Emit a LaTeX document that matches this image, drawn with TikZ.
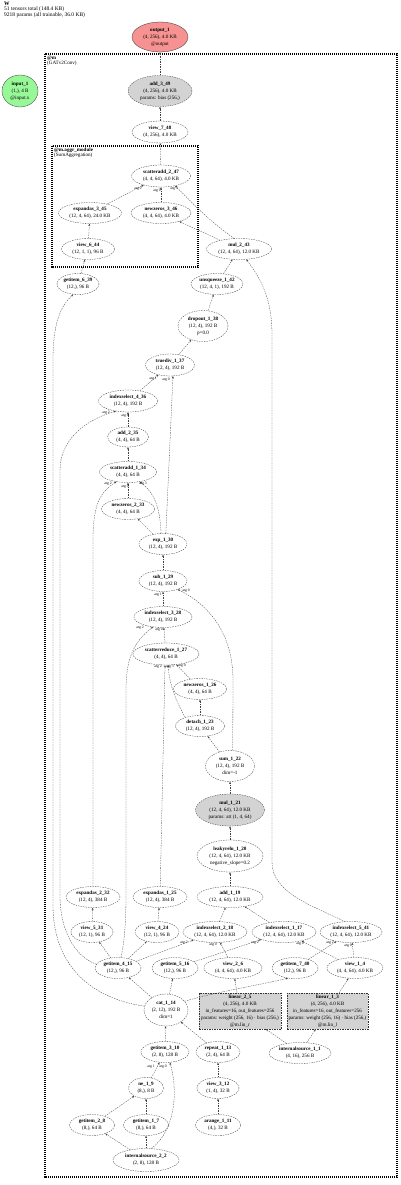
\documentclass[tikz,border=0pt]{standalone}
\usepackage{fontspec}
\setmainfont{Liberation Serif}
\usetikzlibrary{shapes.geometric,arrows.meta}
\definecolor{outred}{RGB}{246,146,146}
\definecolor{ingreen}{RGB}{152,248,152}
\definecolor{pgray}{RGB}{211,211,211}
\newcommand\nfont{\fontsize{5.1}{6.9}\selectfont}
\newcommand\lfont{\fontsize{3.7}{4}\selectfont}
\begin{document}
\begin{tikzpicture}[x=1pt,y=-1pt,
 tn/.style={ellipse, draw=black!80, line width=0.3pt, dash pattern=on 1.5pt off 1pt, inner sep=0pt, align=center, font=\nfont},
 tr/.style={rectangle, draw=black!80, line width=0.3pt, dash pattern=on 1.5pt off 1pt, inner sep=0pt, align=center, font=\nfont, fill=pgray},
 sz/.style 2 args={minimum width=#1pt, minimum height=#2pt},
 ed/.style={draw=black!75, line width=0.3pt, dash pattern=on 1.5pt off 1pt, -{Stealth[length=2.4pt,width=1.8pt]}},
 clu/.style={draw=black, line width=1.2pt, dash pattern=on 1.2pt off 0.8pt},
 al/.style={font=\lfont, inner sep=0pt},
 lab/.style={anchor=north west, inner sep=0pt, align=left}
]
\useasboundingbox (0,0) rectangle (400,1185);
% header
\node[lab, font=\fontsize{5.5}{5.5}\selectfont] (hdr) at (4,1.5) {\textbf{W}\\51 tensors total (148.4 KB)\\9218 params (all trainable, 36.0 KB)};
% clusters
\draw[clu] (45,54) rectangle (397,1177);
\draw[clu] (52,146) rectangle (198,267);
\node[lab, font=\fontsize{5.1}{5.6}\selectfont] (clm) at (47,55.5) {\textbf{@m}\\(GATv2Conv)};
\node[lab, font=\fontsize{5.1}{5.6}\selectfont] (clagg) at (54,147.5) {\textbf{@m.aggr\_module}\\(SumAggregation)};
% nodes
\node[tn, sz={56}{30}, fill=outred, solid] (out1) at (160,37) {\textbf{output\_1}\\(4, 256), 4.0 KB\\@output};
\node[tn, sz={36}{32}, fill=ingreen, solid] (inp1) at (20,91) {\textbf{input\_1}\\(1,), 4 B\\@input.x};
\node[tn, sz={64}{31}, fill=pgray] (add349) at (160,91) {\textbf{add\_3\_49}\\(4, 256), 4.0 KB\\params: bias (256,)};
\node[tn, sz={56}{22}] (view748) at (160,132) {\textbf{view\_7\_48}\\(4, 256), 4.0 KB};
\node[tn, sz={59}{22}] (sca247) at (161,176) {\textbf{scatteradd\_2\_47}\\(4, 4, 64), 4.0 KB};
\node[tn, sz={63}{21}] (exa345) at (90,213) {\textbf{expandas\_3\_45}\\(12, 4, 64), 24.0 KB};
\node[tn, sz={60}{21}] (nz346) at (161,213) {\textbf{newzeros\_3\_46}\\(4, 4, 64), 4.0 KB};
\node[tn, sz={53}{21}] (view644) at (88,249) {\textbf{view\_6\_44}\\(12, 1, 1), 96 B};
\node[tn, sz={65}{21}] (mul243) at (239,249) {\textbf{mul\_2\_43}\\(12, 4, 64), 12.0 KB};
\node[tn, sz={42}{21}] (gi639) at (78,284) {\textbf{getitem\_6\_39}\\(12,), 96 B};
\node[tn, sz={52}{21}] (unsq142) at (217,284) {\textbf{unsqueeze\_1\_42}\\(12, 4, 1), 192 B};
\node[tn, sz={50}{31}] (drop138) at (203,326) {\textbf{dropout\_1\_38}\\(12, 4), 192 B\\p=0.0};
\node[tn, sz={49}{22}] (tdiv137) at (170,365) {\textbf{truediv\_1\_37}\\(12, 4), 192 B};
\node[tn, sz={59}{22}] (isel436) at (128,401) {\textbf{indexselect\_4\_36}\\(12, 4), 192 B};
\node[tn, sz={41}{20}] (add235) at (128,437) {\textbf{add\_2\_35}\\(4, 4), 64 B};
\node[tn, sz={57}{21}] (sca134) at (128,472) {\textbf{scatteradd\_1\_34}\\(4, 4), 64 B};
\node[tn, sz={53}{21}] (nz233) at (128,509) {\textbf{newzeros\_2\_33}\\(4, 4), 64 B};
\node[tn, sz={48}{21}] (exp130) at (163,544) {\textbf{exp\_1\_30}\\(12, 4), 192 B};
\node[tn, sz={48}{21}] (sub129) at (163,581) {\textbf{sub\_1\_29}\\(12, 4), 192 B};
\node[tn, sz={58}{21}] (isel328) at (163,617) {\textbf{indexselect\_3\_28}\\(12, 4), 192 B};
\node[tn, sz={66}{22}] (scr127) at (166,654) {\textbf{scatterreduce\_1\_27}\\(4, 4), 64 B};
\node[tn, sz={53}{21}] (nz126) at (200,689) {\textbf{newzeros\_1\_26}\\(4, 4), 64 B};
\node[tn, sz={49}{21}] (det123) at (200,726) {\textbf{detach\_1\_23}\\(12, 4), 192 B};
\node[tn, sz={49}{31}] (sum122) at (230,766) {\textbf{sum\_1\_22}\\(12, 4), 192 B\\dim=-1};
\node[tn, sz={69}{32}, fill=pgray] (mul121) at (230,810) {\textbf{mul\_1\_21}\\(12, 4, 64), 12.0 KB\\params: att (1, 4, 64)};
\node[tn, sz={66}{32}] (lrelu120) at (230,856) {\textbf{leakyrelu\_1\_20}\\(12, 4, 64), 12.0 KB\\negative\_slope=0.2};
\node[tn, sz={66}{21}] (add119) at (230,897) {\textbf{add\_1\_19}\\(12, 4, 64), 12.0 KB};
\node[tn, sz={54}{21}] (exa232) at (93,897) {\textbf{expandas\_2\_32}\\(12, 4), 384 B};
\node[tn, sz={54}{21}] (exa125) at (160,897) {\textbf{expandas\_1\_25}\\(12, 4), 384 B};
\node[tn, sz={42}{21}] (view531) at (92,932) {\textbf{view\_5\_31}\\(12, 1), 96 B};
\node[tn, sz={44}{21}] (view424) at (157,932) {\textbf{view\_4\_24}\\(12, 1), 96 B};
\node[tn, sz={64}{21}] (isel218) at (215,932) {\textbf{indexselect\_2\_18}\\(12, 4, 64), 12.0 KB};
\node[tn, sz={64}{21}] (isel117) at (284,932) {\textbf{indexselect\_1\_17}\\(12, 4, 64), 12.0 KB};
\node[tn, sz={62}{21}] (isel541) at (351,932) {\textbf{indexselect\_5\_41}\\(12, 4, 64), 12.0 KB};
\node[tn, sz={46}{21}] (gi415) at (118,968) {\textbf{getitem\_4\_15}\\(12,), 96 B};
\node[tn, sz={46}{21}] (gi516) at (175,968) {\textbf{getitem\_5\_16}\\(12,), 96 B};
\node[tn, sz={58}{21}] (view26) at (233,968) {\textbf{view\_2\_6}\\(4, 4, 64), 4.0 KB};
\node[tn, sz={46}{21}] (gi740) at (295,968) {\textbf{getitem\_7\_40}\\(12,), 96 B};
\node[tn, sz={56}{21}] (view14) at (355,968) {\textbf{view\_1\_4}\\(4, 4, 64), 4.0 KB};
\node[tn, sz={44}{32}] (cat114) at (166,1010) {\textbf{cat\_1\_14}\\(2, 12), 192 B\\dim=1};
\node[tr, sz={82}{36}] (lin25) at (240,1011) {\textbf{linear\_2\_5}\\(4, 256), 4.0 KB\\in\_features=16, out\_features=256\\\makebox[0pt]{params: weight (256, 16) · bias (256,)}\\@m.lin\_r};
\node[tr, sz={81}{36}] (lin13) at (327.5,1011) {\textbf{linear\_1\_3}\\(4, 256), 4.0 KB\\in\_features=16, out\_features=256\\\makebox[0pt]{params: weight (256, 16) · bias (256,)}\\@m.lin\_l};
\node[tn, sz={48}{21}] (gi310) at (165,1052) {\textbf{getitem\_3\_10}\\(2, 8), 128 B};
\node[tn, sz={44}{21}] (rep113) at (218,1052) {\textbf{repeat\_1\_13}\\(2, 4), 64 B};
\node[tn, sz={62}{21}] (isrc11) at (300,1053) {\textbf{internalsource\_1\_1}\\(4, 16), 256 B};
\node[tn, sz={35}{21}] (ne19) at (146,1088) {\textbf{ne\_1\_9}\\(8,), 8 B};
\node[tn, sz={42}{21}] (view312) at (218,1088) {\textbf{view\_3\_12}\\(1, 4), 32 B};
\node[tn, sz={45}{21}] (gi28) at (92,1125) {\textbf{getitem\_2\_8}\\(8,), 64 B};
\node[tn, sz={45}{21}] (gi17) at (146,1125) {\textbf{getitem\_1\_7}\\(8,), 64 B};
\node[tn, sz={45}{21}] (ar111) at (218,1125) {\textbf{arange\_1\_11}\\(4,), 32 B};
\node[tn, sz={66}{23}] (isrc22) at (146,1160) {\textbf{internalsource\_2\_2}\\(2, 8), 128 B};
% edges
\draw[ed] (add349) -- (out1);
\draw[ed] (view748) -- (add349);
\draw[ed] (sca247) -- (view748);
\draw[ed] (exa345) -- (sca247);
\draw[ed] (nz346) -- (sca247);
\draw[ed] (mul243.115) .. controls (205,218) and (188,198) .. (sca247.-35);
\draw[ed] (mul243) -- (nz346);
\draw[ed] (view644) -- (exa345);
\draw[ed] (gi639) -- (view644);
\draw[ed] (unsq142) -- (mul243);
\draw[ed] (isel541.120) .. controls (310,905) and (272,892) .. (272,862) -- (272,335) .. controls (272,300) and (262,280) .. (mul243.-55);
\draw[ed] (drop138) -- (unsq142);
\draw[ed] (tdiv137) -- (drop138);
\draw[ed] (isel436) -- (tdiv137);
\draw[ed] (exp130.75) -- (tdiv137.-75);
\draw[ed] (add235) -- (isel436);
\draw[ed] (gi415.170) .. controls (78,958) and (60,935) .. (60,895) -- (60,470) .. controls (60,440) and (85,420) .. (isel436.-140);
\draw[ed] (sca134) -- (add235);
\draw[ed] (nz233) -- (sca134);
\draw[ed] (exa232) -- (93,540) .. controls (93,505) and (100,492) .. (sca134.-140);
\draw[ed] (exp130.100) .. controls (160,515) and (158,495) .. (sca134.-40);
\draw[ed] (exp130) -- (nz233);
\draw[ed] (sub129) -- (exp130);
\draw[ed] (isel328) -- (sub129);
\draw[ed] (sum122.80) -- (233,680) .. controls (233,635) and (210,605) .. (sub129.-30);
\draw[ed] (scr127) -- (isel328);
\draw[ed] (gi415.75) .. controls (124,945) and (126,925) .. (126,895) -- (126,690) .. controls (126,660) and (133,642) .. (isel328.-135);
\draw[ed] (exa125) -- (scr127.-95);
\draw[ed] (det123.150) .. controls (180,708) and (170,690) .. (scr127.-80);
\draw[ed] (nz126) -- (scr127);
\draw[ed] (det123) -- (nz126);
\draw[ed] (sum122) -- (det123);
\draw[ed] (mul121) -- (sum122);
\draw[ed] (lrelu120) -- (mul121);
\draw[ed] (add119) -- (lrelu120);
\draw[ed] (isel218) -- (add119);
\draw[ed] (isel117) -- (add119);
\draw[ed] (view531) -- (exa232);
\draw[ed] (view424) -- (exa125);
\draw[ed] (gi415) -- (view531);
\draw[ed] (gi415) -- (view424);
\draw[ed] (gi415) -- (isel218);
\draw[ed] (view26) -- (isel218);
\draw[ed] (gi516) -- (isel117);
\draw[ed] (view14) -- (isel117);
\draw[ed] (gi740) -- (isel541);
\draw[ed] (view14) -- (isel541);
\draw[ed] (cat114) -- (gi415);
\draw[ed] (cat114) -- (gi516);
\draw[ed] (cat114.25) .. controls (215,992) and (260,985) .. (gi740.-125);
\draw[ed] (cat114.170) .. controls (90,998) and (53,965) .. (53,905) -- (53,360) .. controls (53,320) and (62,305) .. (gi639.-115);
\draw[ed] (lin25) -- (view26);
\draw[ed] (lin13) -- (view14);
\draw[ed] (isrc11) -- (lin25);
\draw[ed] (isrc11) -- (lin13);
\draw[ed] (gi310) -- (cat114);
\draw[ed] (rep113) -- (cat114);
\draw[ed] (view312) -- (rep113);
\draw[ed] (ar111) -- (view312);
\draw[ed] (ne19) -- (gi310);
\draw[ed] (isrc22.65) .. controls (176,1130) and (178,1090) .. (gi310.-65);
\draw[ed] (isrc22) -- (gi28);
\draw[ed] (isrc22) -- (gi17);
\draw[ed] (gi28) -- (ne19);
\draw[ed] (gi17) -- (ne19);
% edge labels
\node[al] (a1) at (138,188.5) {arg 2};
\node[al] (a2) at (157,190.5) {arg 0};
\node[al] (a3) at (174,188.5) {arg 3};
\node[al] (a4) at (153,378.5) {arg 1};
\node[al] (a5) at (166,380) {arg 0};
\node[al] (a6) at (106,412.5) {arg 2};
\node[al] (a7) at (125,415.5) {arg 0};
\node[al] (a8) at (108,484) {arg 2};
\node[al] (a9) at (125,487) {arg 0};
\node[al] (a10) at (143,484) {arg 3};
\node[al] (a11) at (158,594.5) {arg 1};
\node[al] (a12) at (186,591) {arg 0};
\node[al] (a13) at (140,627.5) {arg 2};
\node[al] (a14) at (159,630) {arg 0};
\node[al] (a15) at (158,666.5) {arg 2};
\node[al] (a16) at (170,666.5) {arg 3};
\node[al] (a17) at (182,665.5) {arg 0};
\node[al] (a18) at (184,942.5) {arg 2};
\node[al] (a19) at (213,944.5) {arg 0};
\node[al] (a20) at (255,942.5) {arg 2};
\node[al] (a21) at (300,943.5) {arg 0};
\node[al] (a22) at (330,943) {arg 2};
\node[al] (a23) at (348,946) {arg 0};
\node[al] (a24) at (151,1067) {arg 1};
\node[al] (a25) at (163,1067) {arg 0};
\end{tikzpicture}
\end{document}
